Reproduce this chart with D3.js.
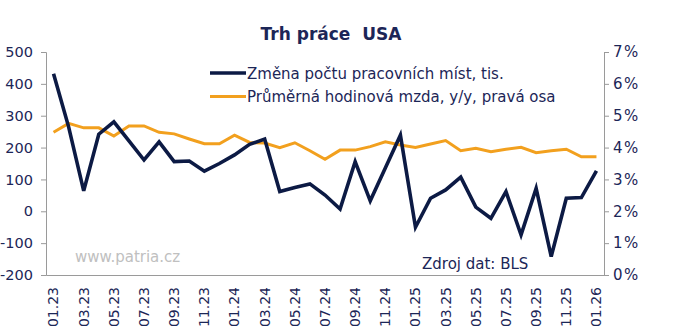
<!DOCTYPE html>
<html><head><meta charset="utf-8">
<script src="https://cdn.jsdelivr.net/npm/d3@7"></script>
<style>body{margin:0;background:#fff;} svg{display:block;}</style>
</head><body>
<svg id="c" width="679" height="336"></svg>
<script>
const months = ["01.23","02.23","03.23","04.23","05.23","06.23","07.23","08.23","09.23","10.23","11.23","12.23",
"01.24","02.24","03.24","04.24","05.24","06.24","07.24","08.24","09.24","10.24","11.24","12.24",
"01.25","02.25","03.25","04.25","05.25","06.25","07.25","08.25","09.25","10.25","11.25","12.25","01.26"];
const jobs = [432,265,64,242,281,221,161,218,156,158,126,150,177,210,227,62,75,86,51,7,156,33,136,239,
-50,41,67,107,13,-22,62,-74,72,-142,41,43,127];
const wages = [4.48,4.76,4.62,4.62,4.36,4.68,4.68,4.48,4.43,4.27,4.12,4.12,4.39,4.16,4.14,4.0,4.15,3.90,3.63,3.92,3.92,4.03,4.18,4.08,
4.0,4.11,4.22,3.90,3.98,3.87,3.95,4.01,3.84,3.90,3.95,3.71,3.71];
const xTickLabels = months.filter((m,i)=>i%2===0);
const leftTicks = [-200,-100,0,100,200,300,400,500];
const rightTicks = [0,1,2,3,4,5,6,7];
const title = "Trh práce  USA";
const legendLabels = ["Změna počtu pracovních míst, tis.","Průměrná hodinová mzda, y/y, pravá osa"];

const navy = "#1c2657", lineNavy = "#0c1a44", orange = "#f2a01e", axisGray = "#9a9a9a";
const font = "Verdana, 'DejaVu Sans', sans-serif";
const svg = d3.select("#c");
const L=46, R=604, T=52, B=275;
const x = d3.scaleBand().domain(months).range([L,R]);
const yl = d3.scaleLinear().domain([-200,500]).range([B,T]);
const yr = d3.scaleLinear().domain([0,7]).range([B,T]);
const cx = d => x(d)+x.bandwidth()/2;

svg.append("text").attr("x",331).attr("y",40).attr("text-anchor","middle").style("white-space","pre")
  .attr("font-family",font).attr("font-weight","bold").attr("font-size",17).attr("fill",navy).text(title);

// left axis
const ga = svg.append("g").attr("transform",`translate(${L},0)`)
  .call(d3.axisLeft(yl).tickValues(leftTicks).tickFormat(d=>String(d)).tickSize(5).tickPadding(8));
ga.select(".domain").attr("stroke",axisGray);
ga.selectAll("line").attr("stroke",axisGray);
ga.selectAll("text").attr("font-family",font).attr("font-size",14.5).attr("fill",navy);
// right axis
const gr = svg.append("g").attr("transform",`translate(${R},0)`)
  .call(d3.axisRight(yr).tickValues(rightTicks).tickFormat(d=>d+"%").tickSize(5).tickPadding(4));
gr.select(".domain").attr("stroke",axisGray);
gr.selectAll("line").attr("stroke",axisGray);
gr.selectAll("text").attr("font-family",font).attr("font-size",15).attr("letter-spacing",1.5).attr("fill",navy);
// bottom axis
const gb = svg.append("g").attr("transform",`translate(0,${B})`)
  .call(d3.axisBottom(x).tickValues(xTickLabels).tickSize(0).tickPadding(0));
gb.select(".domain").attr("stroke",axisGray);
gb.selectAll("text").attr("font-family",font).attr("font-size",14).attr("fill",navy)
  .attr("transform","rotate(-90)").attr("text-anchor","end").attr("dx","-12").attr("dy","0.35em").attr("y",0);

svg.append("text").attr("x",75).attr("y",262).attr("font-family",font).attr("font-size",15).attr("fill","#c0c0c0").text("www.patria.cz");
svg.append("text").attr("x",422).attr("y",269).attr("font-family",font).attr("font-size",15).attr("fill",navy).text("Zdroj dat: BLS");

const lw = d3.line().x((d,i)=>cx(months[i])).y(d=>yr(d));
const lj = d3.line().x((d,i)=>cx(months[i])).y(d=>yl(d));
svg.append("path").attr("d",lw(wages)).attr("fill","none").attr("stroke",orange).attr("stroke-width",3);
svg.append("path").attr("d",lj(jobs)).attr("fill","none").attr("stroke",lineNavy).attr("stroke-width",3.6);

// legend
const leg = [[lineNavy,3.6],[orange,3]];
leg.forEach((s,i)=>{
  const yy = 73 + i*23.5;
  svg.append("line").attr("x1",210).attr("x2",246).attr("y1",yy).attr("y2",yy).attr("stroke",s[0]).attr("stroke-width",s[1]);
  svg.append("text").attr("x",247).attr("y",yy+5.5).attr("font-family",font).attr("font-size",15).attr("fill",navy).text(legendLabels[i]);
});
</script>
</body></html>
